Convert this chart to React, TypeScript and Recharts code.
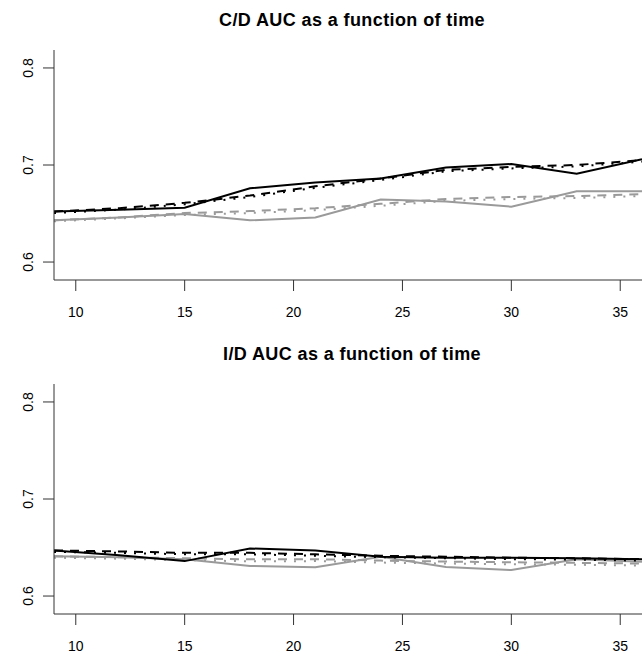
import React from "react";
import { LineChart, Line, XAxis, YAxis } from "recharts";

const times = [9, 12, 15, 18, 21, 24, 27, 30, 33, 36];
const xTicks = [10, 15, 20, 25, 30, 35];
const yTicks = [0.6, 0.7, 0.8];

// Top panel: C/D AUC
const cdBlackSolid = [0.652, 0.654, 0.656, 0.676, 0.682, 0.686, 0.6975, 0.701, 0.691, 0.706];
const cdBlackDashed = [0.652, 0.6555, 0.661, 0.6685, 0.678, 0.686, 0.695, 0.698, 0.7, 0.705];
const cdBlackDotted = [0.6505, 0.654, 0.6595, 0.667, 0.6765, 0.6845, 0.6935, 0.6965, 0.6985, 0.7035];
const cdGraySolid = [0.643, 0.646, 0.6495, 0.643, 0.646, 0.6645, 0.6625, 0.657, 0.673, 0.673];
const cdGrayDashed = [0.643, 0.646, 0.6505, 0.6525, 0.6555, 0.66, 0.665, 0.667, 0.668, 0.67];
const cdGrayDotted = [0.642, 0.645, 0.6485, 0.6505, 0.6535, 0.658, 0.663, 0.665, 0.666, 0.668];

// Bottom panel: I/D AUC
const idBlackSolid = [0.647, 0.642, 0.636, 0.649, 0.647, 0.6405, 0.6395, 0.6395, 0.639, 0.638];
const idBlackDashed = [0.647, 0.646, 0.6445, 0.6445, 0.643, 0.6415, 0.6405, 0.6395, 0.639, 0.638];
const idBlackDotted = [0.6455, 0.6445, 0.643, 0.643, 0.6415, 0.64, 0.639, 0.638, 0.6375, 0.6365];
const idGraySolid = [0.641, 0.64, 0.638, 0.631, 0.6296, 0.6405, 0.63, 0.6268, 0.638, 0.6354];
const idGrayDashed = [0.641, 0.64, 0.639, 0.6378, 0.638, 0.6365, 0.6355, 0.6348, 0.6342, 0.6335];
const idGrayDotted = [0.6395, 0.6385, 0.637, 0.6358, 0.636, 0.6345, 0.6335, 0.6328, 0.6322, 0.6315];

const titles = ["C/D AUC as a function of time", "I/D AUC as a function of time"];

const FONT = '"Liberation Sans", Arial, Helvetica, sans-serif';
const BLACK = "#000000";
const GRAY = "#9a9a9a";
const AXIS = "#333333";
const Y_DOMAIN: [number, number] = [0.5815, 0.8185];

function buildRows(bs: number[], bd: number[], bo: number[], gs: number[], gd: number[], go: number[]) {
  return times.map((t, i) => ({
    t,
    bs: bs[i],
    bd: bd[i],
    bo: bo[i],
    gs: gs[i],
    gd: gd[i],
    go: go[i],
  }));
}

const panels = [
  buildRows(cdBlackSolid, cdBlackDashed, cdBlackDotted, cdGraySolid, cdGrayDashed, cdGrayDotted),
  buildRows(idBlackSolid, idBlackDashed, idBlackDotted, idGraySolid, idGrayDashed, idGrayDotted),
];

const XTick = (props: any) => {
  const { x, y, payload } = props;
  return (
    <text x={x} y={y + 24} textAnchor="middle" fontFamily={FONT} fontSize={14} fill="#000">
      {payload.value}
    </text>
  );
};

const YTick = (props: any) => {
  const { x, y, payload } = props;
  const cx = x - 8;
  return (
    <text
      x={cx}
      y={y}
      transform={`rotate(-90, ${cx}, ${y})`}
      textAnchor="middle"
      fontFamily={FONT}
      fontSize={14}
      fill="#000"
    >
      {payload.value.toFixed(1)}
    </text>
  );
};

const W = 644;
const H = 334;

function Panel({ rows, title, top }: { rows: any[]; title: string; top: number }) {
  return (
    <div style={{ position: "absolute", left: 0, top, width: W, height: H }}>
      <div
        style={{
          position: "absolute",
          left: 58,
          width: 588,
          top: 8,
          lineHeight: "24px",
          textAlign: "center",
          fontFamily: FONT,
          fontWeight: "bold",
          fontSize: 18,
          letterSpacing: "0.4px",
          color: "#000",
        }}
      >
        {title}
      </div>
      <LineChart width={W} height={H} data={rows} margin={{ top: 50, right: 2, left: 0, bottom: 0 }}>
        <XAxis
          dataKey="t"
          type="number"
          domain={[9, 36]}
          ticks={xTicks}
          allowDataOverflow
          height={54}
          stroke={AXIS}
          tickSize={11}
          tick={<XTick />}
          interval={0}
        />
        <XAxis
          xAxisId="top"
          dataKey="t"
          type="number"
          orientation="top"
          domain={[9, 36]}
          allowDataOverflow
          height={0}
          stroke={AXIS}
          tick={false}
          tickLine={false}
        />
        <YAxis
          type="number"
          domain={Y_DOMAIN}
          ticks={yTicks}
          allowDataOverflow
          width={54}
          stroke={AXIS}
          tickSize={11}
          tick={<YTick />}
          interval={0}
        />
        <YAxis
          yAxisId="right"
          orientation="right"
          type="number"
          domain={Y_DOMAIN}
          width={0}
          stroke={AXIS}
          tick={false}
          tickLine={false}
        />
        <Line type="linear" dataKey="go" stroke={GRAY} strokeWidth={2} strokeDasharray="2 8" dot={false} isAnimationActive={false} />
        <Line type="linear" dataKey="gd" stroke={GRAY} strokeWidth={2} strokeDasharray="9 7" dot={false} isAnimationActive={false} />
        <Line type="linear" dataKey="gs" stroke={GRAY} strokeWidth={2} dot={false} isAnimationActive={false} />
        <Line type="linear" dataKey="bo" stroke={BLACK} strokeWidth={2} strokeDasharray="2 8" dot={false} isAnimationActive={false} />
        <Line type="linear" dataKey="bd" stroke={BLACK} strokeWidth={2} strokeDasharray="9 7" dot={false} isAnimationActive={false} />
        <Line type="linear" dataKey="bs" stroke={BLACK} strokeWidth={2} dot={false} isAnimationActive={false} />
      </LineChart>
    </div>
  );
}

export default function App() {
  return (
    <div style={{ position: "absolute", left: 0, top: 0, width: W, height: 656, background: "#fff", overflow: "hidden" }}>
      <Panel rows={panels[0]} title={titles[0]} top={0} />
      <Panel rows={panels[1]} title={titles[1]} top={334} />
    </div>
  );
}
